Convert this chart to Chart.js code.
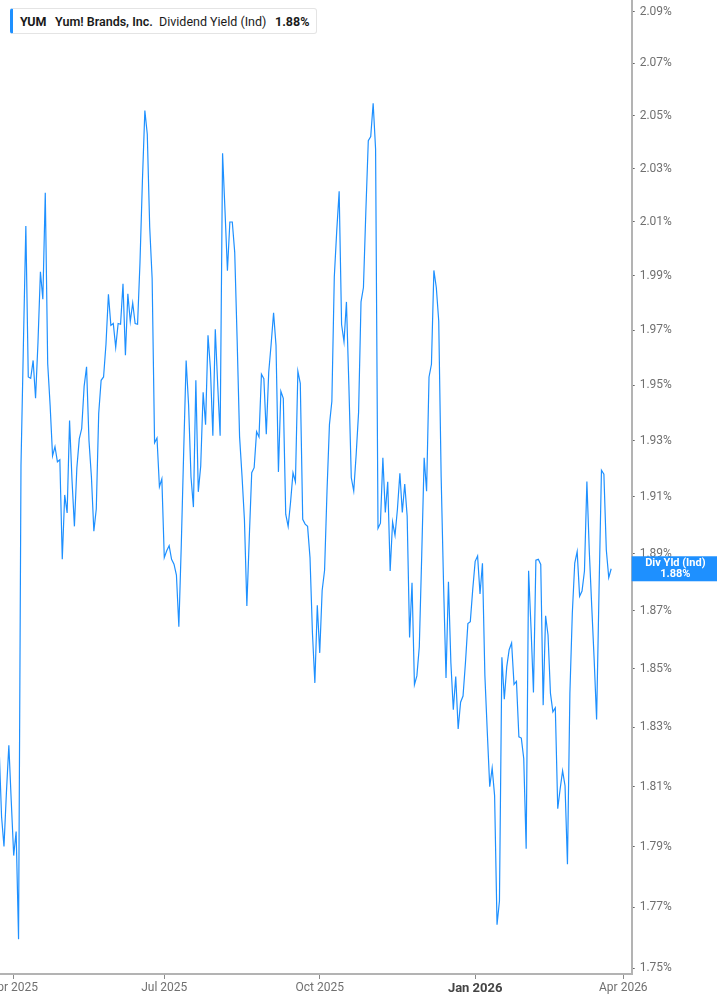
<!DOCTYPE html>
<html>
<head>
<meta charset="utf-8">
<script src="https://cdn.jsdelivr.net/npm/chart.js@4.4.1/dist/chart.umd.min.js"></script>
<style>
  html, body { margin: 0; padding: 0; background: #fff; }
  #wrap { position: relative; width: 717px; height: 1005px; }
  #legend { position: absolute; left: 10px; top: 8px; width: 303px; height: 24px;
    border: 1px solid #e4e4e4; border-left: 3px solid #1E90FF; border-radius: 3px;
    background: #fff; font-family: Roboto, "Noto Sans", sans-serif; font-size: 12.5px; color: #1a1a1a; }
  #legend span { position: absolute; top: 4.5px; white-space: nowrap; }
</style>
</head>
<body>
<div id="wrap">
  <canvas id="c" width="717" height="1005"></canvas>
  <div id="legend">
    <span id="lgTicker" style="left:7px;font-weight:700;"></span>
    <span id="lgName" style="left:42px;font-weight:600;"></span>
    <span id="lgMetric" style="left:146px;font-weight:400;"></span>
    <span id="lgValue" style="left:262px;font-weight:700;"></span>
  </div>
</div>
<script>
// ---- data ----
const ticker = "YUM";
const companyName = "Yum! Brands, Inc.";
const metricName = "Dividend Yield (Ind)";
const shortMetric = "Div Yld (Ind)";

// trading-day index of the first value (0 = first trading day of Apr 2025)
const startIndex = -6;

// dividend yield (%), one value per trading day
const yieldValues = [
  1.823, 1.800, 1.790, 1.808, 1.824, 1.805, 1.787, 1.795, 1.7595, 1.921,
  1.965, 2.0085, 1.953, 1.9525, 1.959, 1.9453, 1.9656, 1.9915, 1.9814, 2.0209,
  1.9578, 1.9427, 1.9246, 1.9279, 1.9225, 1.9232, 1.888, 1.9107, 1.9043, 1.9373,
  1.9161, 1.8996, 1.9203, 1.9307, 1.9344, 1.9496, 1.9567, 1.930, 1.9171, 1.8979,
  1.9057, 1.9398, 1.9518, 1.953, 1.965, 1.9832, 1.9718, 1.9725, 1.9638, 1.9725,
  1.9722, 1.9871, 1.9609, 1.9834, 1.9732, 1.980, 1.9725, 1.9722, 1.995, 2.0255,
  2.052, 2.043, 2.008, 1.989, 1.9293, 1.931, 1.9136, 1.9164, 1.8886, 1.891,
  1.8928, 1.888, 1.8863, 1.8825, 1.8645, 1.893, 1.9265, 1.959, 1.943, 1.9171,
  1.9064, 1.9518, 1.9118, 1.921, 1.9475, 1.9358, 1.9682, 1.956, 1.9318, 1.9704,
  1.950, 1.9318, 2.0358, 2.0142, 1.9919, 2.010, 2.010, 1.9987, 1.9664, 1.9315,
  1.9175, 1.9019, 1.8717, 1.8957, 1.9186, 1.9204, 1.9333, 1.9314, 1.954, 1.9524,
  1.9324, 1.9547, 1.965, 1.9764, 1.9645, 1.9189, 1.9478, 1.9453, 1.9039, 1.8996,
  1.9082, 1.9186, 1.9154, 1.9551, 1.9507, 1.9021, 1.9004, 1.8996, 1.8886, 1.8624,
  1.8452, 1.8720, 1.8555, 1.8771, 1.8842, 1.9121, 1.9358, 1.9442, 1.9896, 2.0066,
  2.0215, 1.9721, 1.9658, 1.9804, 1.950, 1.9168, 1.9121, 1.925, 1.9402, 1.9804,
  1.9857, 2.0142, 2.0406, 2.0421, 2.0548, 2.0374, 1.8989, 1.9007, 1.9239, 1.9045,
  1.9154, 1.8839, 1.9011, 1.8964, 1.9057, 1.9184, 1.9045, 1.9146, 1.9032, 1.8608,
  1.8798, 1.8446, 1.8476, 1.8576, 1.8895, 1.9239, 1.912, 1.953, 1.9576, 1.992,
  1.9857, 1.9734, 1.917, 1.8788, 1.8469, 1.8802, 1.8521, 1.836, 1.8474, 1.8295,
  1.8386, 1.8407, 1.8521, 1.8656, 1.8663, 1.8775, 1.8873, 1.8892, 1.8759, 1.8866,
  1.8477, 1.8283, 1.810, 1.8163, 1.807, 1.7642, 1.772, 1.854, 1.8396, 1.8507,
  1.8566, 1.8589, 1.8447, 1.8457, 1.8268, 1.8264, 1.8195, 1.7893, 1.884, 1.8641,
  1.8419, 1.8877, 1.888, 1.8862, 1.8376, 1.8683, 1.8617, 1.8416, 1.8353, 1.8367,
  1.8026, 1.8093, 1.8153, 1.8103, 1.7841, 1.8416, 1.8692, 1.8867, 1.8907, 1.8751,
  1.8769, 1.8839, 1.9155, 1.8907, 1.8715, 1.8531, 1.8327, 1.8771, 1.9195, 1.9181,
  1.8913, 1.8816, 1.8847
];

// x-axis ticks (trading-day index) and labels
const xTickIndex = [0, 62, 126, 190, 251];
const xTickLabels = ["Apr 2025", "Jul 2025", "Oct 2025", "Jan 2026", "Apr 2026"];
const boldTickLabel = "Jan 2026";

// y-axis ticks (%)
const yTickValues = [1.75, 1.77, 1.79, 1.81, 1.83, 1.85, 1.87, 1.89, 1.91, 1.93, 1.95, 1.97, 1.99, 2.01, 2.03, 2.05, 2.07, 2.09];

const lastValue = yieldValues[yieldValues.length - 1];
const lastLabel = lastValue.toFixed(2) + "%";

// ---- legend text ----
document.getElementById('lgTicker').textContent = ticker;
document.getElementById('lgName').textContent = companyName;
document.getElementById('lgMetric').textContent = metricName;
document.getElementById('lgValue').textContent = lastLabel;

// ---- chart ----
const points = yieldValues.map((v, k) => ({ x: startIndex + k, y: v }));
const LINE = '#1E90FF';

const lastLabelPlugin = {
  id: 'lastLabel',
  afterDraw(chart) {
    const ctx = chart.ctx;
    const ys = chart.scales.y;
    const area = chart.chartArea;
    const y = ys.getPixelForValue(lastValue);
    const x0 = area.right;
    const w = chart.width - x0;
    ctx.save();
    ctx.fillStyle = LINE;
    ctx.fillRect(x0, y - 12.5, w, 25);
    ctx.fillStyle = '#fff';
    ctx.textAlign = 'center';
    ctx.textBaseline = 'middle';
    ctx.font = 'bold 11px Roboto, "Noto Sans", sans-serif';
    ctx.fillText(shortMetric, x0 + w / 2 + 1, y - 5.5);
    ctx.fillText(lastLabel, x0 + w / 2 + 1, y + 5.5);
    ctx.restore();
  }
};

new Chart(document.getElementById('c'), {
  type: 'line',
  data: {
    datasets: [{
      data: points,
      borderColor: LINE,
      borderWidth: 1.2,
      pointRadius: 0,
      tension: 0,
      fill: false
    }]
  },
  options: {
    responsive: false,
    animation: false,
    devicePixelRatio: 1,
    layout: { padding: 0 },
    plugins: { legend: { display: false }, tooltip: { enabled: false } },
    scales: {
      x: {
        type: 'linear',
        position: 'bottom',
        min: -5.641,
        max: 254.45,
        afterBuildTicks(scale) { scale.ticks = xTickIndex.map(v => ({ value: v })); },
        afterFit(scale) { scale.height = 31; scale.paddingLeft = 0; scale.paddingRight = 0; },
        grid: { drawOnChartArea: false, drawTicks: true, tickLength: 5, color: '#8a8a8a' },
        border: { display: true, color: '#b3b3b3', width: 2 },
        ticks: {
          autoSkip: false, maxRotation: 0, padding: 2,
          callback: (v, i) => xTickLabels[i],
          color: (c) => c.tick && xTickLabels[c.index] === boldTickLabel ? '#444' : '#707070',
          font: (c) => xTickLabels[c.index] === boldTickLabel
            ? { family: 'Roboto, "Noto Sans", sans-serif', size: 13, weight: 'bold' }
            : { family: 'Roboto, "Noto Sans", sans-serif', size: 12 }
        }
      },
      y: {
        type: 'logarithmic',
        position: 'right',
        min: 1.74815,
        max: 2.09454,
        afterBuildTicks(scale) { scale.ticks = yTickValues.map(v => ({ value: v })); },
        afterFit(scale) { scale.width = 717 - 631.7; scale.paddingTop = 0; scale.paddingBottom = 0; },
        grid: { drawOnChartArea: false, drawTicks: true, tickLength: 3, color: '#666' },
        border: { display: true, color: '#b3b3b3', width: 2 },
        ticks: {
          autoSkip: false, padding: 5,
          callback: (v) => Number(v).toFixed(2) + '%',
          color: '#707070',
          font: { family: 'Roboto, "Noto Sans", sans-serif', size: 12 }
        }
      }
    }
  },
  plugins: [lastLabelPlugin]
});
</script>
</body>
</html>
